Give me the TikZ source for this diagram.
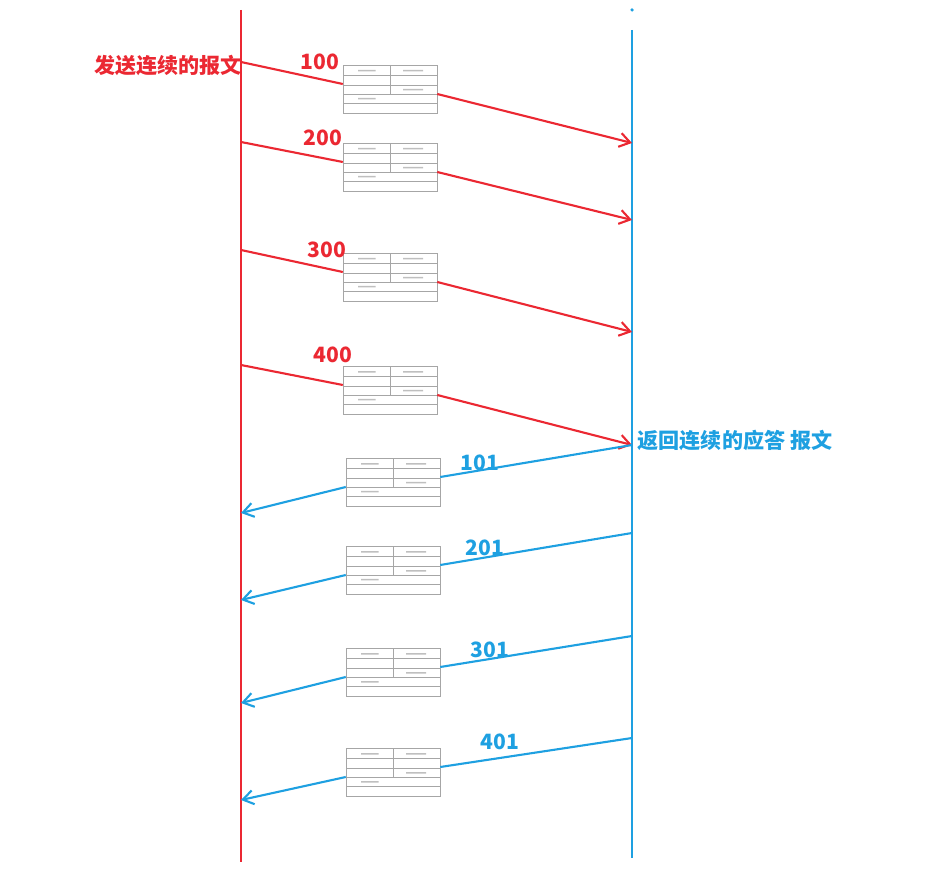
\documentclass[tikz,border=0pt]{standalone}
\usepackage{fontspec}
\newfontfamily\cjk{Noto Sans CJK SC}
\usetikzlibrary{positioning, arrows.meta}
\definecolor{sendred}{RGB}{235,40,50}
\definecolor{ackblue}{RGB}{30,160,225}
\tikzset{
    pkt/.style={rectangle, draw=gray!70, line width=0.3pt, minimum width=1.88cm, minimum height=0.96cm, inner sep=0pt,
        path picture={
            \draw[gray!70, line width=0.25pt]
                ([yshift=-0.2cm]path picture bounding box.north west) -- ([yshift=-0.2cm]path picture bounding box.north east)
                ([yshift=-0.4cm]path picture bounding box.north west) -- ([yshift=-0.4cm]path picture bounding box.north east)
                ([yshift=-0.58cm]path picture bounding box.north west) -- ([yshift=-0.58cm]path picture bounding box.north east)
                ([yshift=-0.76cm]path picture bounding box.north west) -- ([yshift=-0.76cm]path picture bounding box.north east)
                ([xshift=0.94cm]path picture bounding box.north west) -- ([xshift=0.94cm,yshift=-0.58cm]path picture bounding box.north west);
            \fill[gray!50] ([xshift=0.3cm,yshift=-0.1cm]path picture bounding box.north west) rectangle ++(0.35cm,-0.03cm)
                           ([xshift=1.2cm,yshift=-0.1cm]path picture bounding box.north west) rectangle ++(0.4cm,-0.03cm)
                           ([xshift=1.2cm,yshift=-0.48cm]path picture bounding box.north west) rectangle ++(0.4cm,-0.03cm)
                           ([xshift=0.3cm,yshift=-0.66cm]path picture bounding box.north west) rectangle ++(0.35cm,-0.03cm);
        }},
    sendline/.style={sendred, line width=1.2pt},
    ackline/.style={ackblue, line width=1.2pt},
    num/.style={font=\cjk\bfseries\large},
    tip/.style={-{Straight Barb[length=6pt,width=8pt]}}
}
\begin{document}
\begin{tikzpicture}[x=0.02cm, y=-0.02cm]
    \useasboundingbox (0,0) rectangle (939,884);
    % lifelines
    \coordinate (ltop) at (241,10);
    \coordinate (lbot) at (241,862);
    \coordinate (rtop) at (632,30);
    \coordinate (rbot) at (632,858);
    \draw[sendline] (ltop) -- (lbot);
    \draw[ackline] (rtop) -- (rbot);
    \fill[ackblue] (632,10) circle (1pt);
    % titles
    \node[sendred, font=\cjk\bfseries\large] (sendtitle) at (168,65) {发送连续的报文};
    \node[ackblue, font=\cjk\bfseries\large] (acktitle) at (735,440) {返回连续的应答 报文};
    % sent segments
    \foreach \i/\ys/\yb/\ye/\lbl/\lx/\ly in {1/62/89/143/100/320/62, 2/142/167/220/200/323/138, 3/250/277/332/300/327/250, 4/365/390/445/400/333/355} {
        \node[pkt] (p\i) at (390,\yb) {};
        \coordinate (s\i) at (241,\ys);
        \coordinate (e\i) at (632,\ye);
        \draw[sendline] (s\i) -- ([yshift=0.1cm]p\i.west);
        \draw[sendline, tip] ([yshift=-0.1cm]p\i.east) -- (e\i);
        \node[sendred, num] (n\i) at (\lx,\ly) {\lbl};
    }
    % acknowledgements
    \foreach \i/\ys/\yb/\ye/\lbl/\lx/\ly in {5/445/482/513/101/480/463, 6/533/570/600/201/485/548, 7/636/672/703/301/490/650, 8/738/772/800/401/500/742} {
        \node[pkt] (p\i) at (393,\yb) {};
        \coordinate (s\i) at (632,\ys);
        \coordinate (e\i) at (241,\ye);
        \draw[ackline] (s\i) -- ([yshift=0.1cm]p\i.east);
        \draw[ackline, tip] ([yshift=-0.1cm]p\i.west) -- (e\i);
        \node[ackblue, num] (n\i) at (\lx,\ly) {\lbl};
    }
\end{tikzpicture}
\end{document}
